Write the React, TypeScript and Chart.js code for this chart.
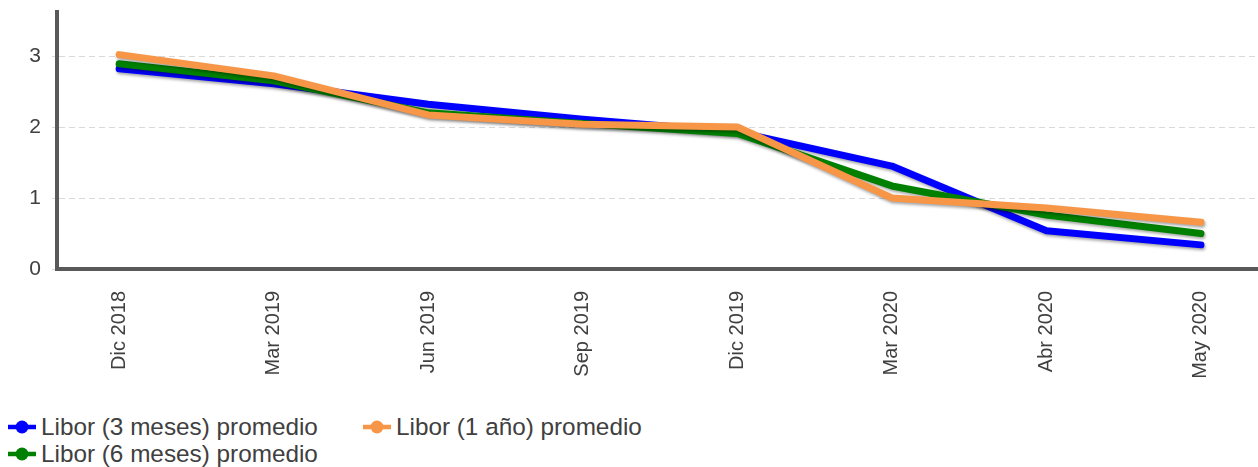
import React, { useEffect, useRef } from "react";
import { Chart, registerables } from "chart.js";

Chart.register(...registerables);

const categories = ["Dic 2018", "Mar 2019", "Jun 2019", "Sep 2019", "Dic 2019", "Mar 2020", "Abr 2020", "May 2020"];
const libor3m = [2.82, 2.61, 2.32, 2.11, 1.93, 1.45, 0.54, 0.34];
const libor6m = [2.89, 2.65, 2.2, 2.05, 1.91, 1.17, 0.76, 0.5];
const libor1y = [3.02, 2.72, 2.17, 2.04, 2.0, 1.0, 0.86, 0.66];
const yTickValues = [0, 1, 2, 3];
const seriesNames = ["Libor (3 meses) promedio", "Libor (6 meses) promedio", "Libor (1 año) promedio"];

const BLUE = "#0000ff";
const GREEN = "#008000";
const ORANGE = "#f79646";
const AXIS = "#595959";
const GRID = "#d9d9d9";
const TEXT = "#404040";
const FONT = "'Liberation Sans', Arial, sans-serif";

const toPoints = (vals: number[]) => vals.map((v, i) => ({ x: i, y: v }));

const shadowPlugin = {
  id: "lineShadow",
  beforeDatasetDraw(chart: any) {
    const ctx = chart.ctx;
    ctx.save();
    ctx.shadowColor = "rgba(0,0,0,0.35)";
    ctx.shadowBlur = 3;
    ctx.shadowOffsetX = 1;
    ctx.shadowOffsetY = 2;
  },
  afterDatasetDraw(chart: any) {
    chart.ctx.restore();
  },
};

function LegendMarker({ color }: { color: string }) {
  return (
    <svg width={30} height={16} style={{ display: "block" }}>
      <line x1={1} y1={8} x2={29} y2={8} stroke={color} strokeWidth={4.5} />
      <circle cx={15} cy={8} r={6.5} fill={color} />
    </svg>
  );
}

function LegendItem({ color, label, left, top }: { color: string; label: string; left: number; top: number }) {
  return (
    <div
      style={{
        position: "absolute",
        left,
        top,
        height: 27,
        display: "flex",
        alignItems: "center",
        fontFamily: FONT,
        fontSize: 24.3,
        color: TEXT,
        whiteSpace: "nowrap",
      }}
    >
      <LegendMarker color={color} />
      <span style={{ marginLeft: 4 }}>{label}</span>
    </div>
  );
}

export default function App() {
  const canvasRef = useRef<HTMLCanvasElement | null>(null);

  useEffect(() => {
    const canvas = canvasRef.current;
    if (!canvas) return;
    const chart = new Chart(canvas, {
      type: "line",
      data: {
        datasets: [
          {
            label: seriesNames[2],
            data: toPoints(libor1y),
            borderColor: ORANGE,
            backgroundColor: ORANGE,
          },
          {
            label: seriesNames[1],
            data: toPoints(libor6m),
            borderColor: GREEN,
            backgroundColor: GREEN,
          },
          {
            label: seriesNames[0],
            data: toPoints(libor3m),
            borderColor: BLUE,
            backgroundColor: BLUE,
          },
        ].map((d) => ({
          ...d,
          borderWidth: 7,
          pointRadius: 0,
          pointHoverRadius: 0,
          tension: 0,
          borderCapStyle: "round" as const,
          borderJoinStyle: "round" as const,
          fill: false,
        })),
      },
      options: {
        animation: false,
        responsive: false,
        maintainAspectRatio: false,
        layout: { padding: { top: 12, right: 0, bottom: 0, left: 0 } },
        plugins: {
          legend: { display: false },
          tooltip: { enabled: false },
        },
        scales: {
          x: {
            type: "linear",
            min: -0.402,
            max: 7.369,
            afterBuildTicks: (scale: any) => {
              scale.ticks = categories.map((_, i) => ({ value: i }));
            },
            afterFit: (scale: any) => {
              scale.height = 131;
              scale.paddingLeft = 0;
              scale.paddingRight = 0;
            },
            ticks: {
              autoSkip: false,
              minRotation: 90,
              maxRotation: 90,
              padding: 22,
              color: TEXT,
              font: { family: FONT, size: 20 },
              callback: (v: any) => categories[Math.round(Number(v))] ?? "",
            },
            grid: { display: false, drawTicks: false },
            border: { display: true, color: AXIS, width: 4 },
          },
          y: {
            type: "linear",
            min: 0,
            max: 3.62,
            afterBuildTicks: (scale: any) => {
              scale.ticks = yTickValues.map((v) => ({ value: v }));
            },
            afterFit: (scale: any) => {
              scale.width = 57;
              scale.paddingTop = 0;
              scale.paddingBottom = 0;
            },
            ticks: {
              padding: 11,
              color: TEXT,
              font: { family: FONT, size: 21 },
              callback: (v: any) => String(v),
            },
            grid: {
              color: (c: any) => (c.tick && c.tick.value === 0 ? "rgba(0,0,0,0)" : GRID),
              lineWidth: 1,
              tickLength: 5,
              tickColor: GRID,
              tickBorderDash: [6, 4],
            },
            border: { display: true, color: AXIS, width: 4, dash: [6, 4] },
          },
        },
      },
      plugins: [shadowPlugin],
    } as any);
    return () => chart.destroy();
  }, []);

  return (
    <div style={{ position: "absolute", left: 0, top: 0, width: 1258, height: 467, background: "#fff" }}>
      <canvas ref={canvasRef} width={1258} height={400} style={{ position: "absolute", left: 0, top: 0, width: 1258, height: 400 }} />
      <LegendItem color={BLUE} label={seriesNames[0]} left={7} top={413} />
      <LegendItem color={ORANGE} label={seriesNames[2]} left={362} top={413} />
      <LegendItem color={GREEN} label={seriesNames[1]} left={7} top={440} />
    </div>
  );
}
